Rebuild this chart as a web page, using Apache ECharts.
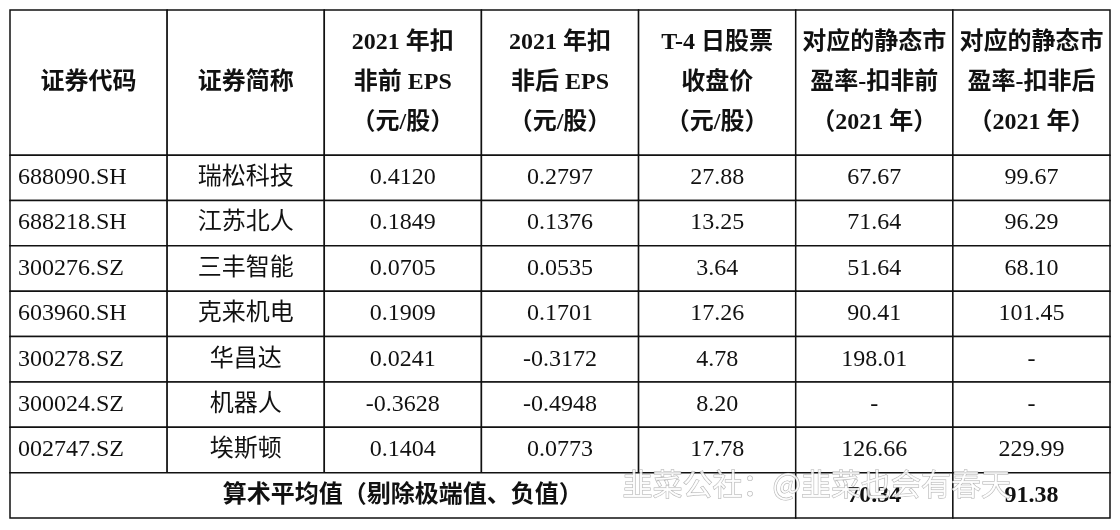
<!DOCTYPE html>
<html><head><meta charset="utf-8">
<script src="https://cdn.jsdelivr.net/npm/echarts@6/dist/echarts.min.js"></script>
<style>html,body{margin:0;padding:0;background:#fff}#c{width:1120px;height:530px}</style>
</head><body><div id="c"></div>
<script>
const headers = ['证券代码','证券简称','2021 年扣\n非前 EPS\n（元/股）','2021 年扣\n非后 EPS\n（元/股）','T-4 日股票\n收盘价\n（元/股）','对应的静态市\n盈率-扣非前\n（2021 年）','对应的静态市\n盈率-扣非后\n（2021 年）'];
const codes = ['688090.SH','688218.SH','300276.SZ','603960.SH','300278.SZ','300024.SZ','002747.SZ'];
const names = ['瑞松科技','江苏北人','三丰智能','克来机电','华昌达','机器人','埃斯顿'];
const epsBefore = ['0.4120','0.1849','0.0705','0.1909','0.0241','-0.3628','0.1404'];
const epsAfter = ['0.2797','0.1376','0.0535','0.1701','-0.3172','-0.4948','0.0773'];
const closePrice = ['27.88','13.25','3.64','17.26','4.78','8.20','17.78'];
const peBefore = ['67.67','71.64','51.64','90.41','198.01','-','126.66'];
const peAfter = ['99.67','96.29','68.10','101.45','-','-','229.99'];
const avgLabel = '算术平均值（剔除极端值、负值）';
const avgValues = ['70.34','91.38'];

const cells = [];
headers.forEach((h,c)=>cells.push({value:[c,0,h,1,1,'h']}));
codes.forEach((_,r)=>{
  const row=[codes[r],names[r],epsBefore[r],epsAfter[r],closePrice[r],peBefore[r],peAfter[r]];
  row.forEach((t,c)=>cells.push({value:[c,r+1,t,0,1,'d']}));
});
cells.push({value:[0,8,avgLabel,1,5,'d']});
cells.push({value:[5,8,avgValues[0],1,1,'d']});
cells.push({value:[6,8,avgValues[1],1,1,'d']});

const HEAD = 3.2;
const chart = echarts.init(document.getElementById('c'));
chart.setOption({
  animation:false,
  grid:{left:10,right:10,top:10,bottom:12},
  xAxis:{type:'category',data:headers.map((_,i)=>i),show:false},
  yAxis:{type:'value',min:0,max:HEAD+8,inverse:true,show:false},
  series:[{
    type:'custom',
    data:cells,
    renderItem:function(params,api){
      const c=api.value(0), r=api.value(1), text=api.value(2), bold=api.value(3), span=api.value(4);
      const w=api.size([1,0])[0];
      const cx=api.coord([c,0])[0];
      const x0=cx-w/2;
      const y0 = r===0 ? api.coord([0,0])[1] : api.coord([0,HEAD+r-1])[1];
      const y1 = r===0 ? api.coord([0,HEAD])[1] : api.coord([0,HEAD+r])[1];
      const ww=w*span;
      const isHead = r===0;
      const leftAlign = (c===0 && r>0 && r<8);
      return {type:'group',children:[
        {type:'rect',shape:{x:x0,y:y0,width:ww,height:y1-y0},style:{fill:'#fff',stroke:'#111',lineWidth:1.5}},
        {type:'text',style:{
          x:leftAlign? x0+8 : x0+ww/2, y:(y0+y1)/2,
          text:text, align:leftAlign?'left':'center', verticalAlign:'middle',
          font:(bold?'bold ':'')+(isHead?'24px':'24px')+' "Liberation Serif","Noto Sans CJK SC",serif',
          fill:'#111', lineHeight:isHead?40:26
        }}
      ]};
    }
  }],
  graphic:[{type:'text',left:622,top:468,z:100,style:{text:'韭菜公社：@韭菜也会有春天',font:'30px "Noto Sans CJK SC",sans-serif',fill:'rgba(255,255,255,0.85)',stroke:'rgba(120,120,120,0.6)',lineWidth:1}}]
});
</script></body></html>
